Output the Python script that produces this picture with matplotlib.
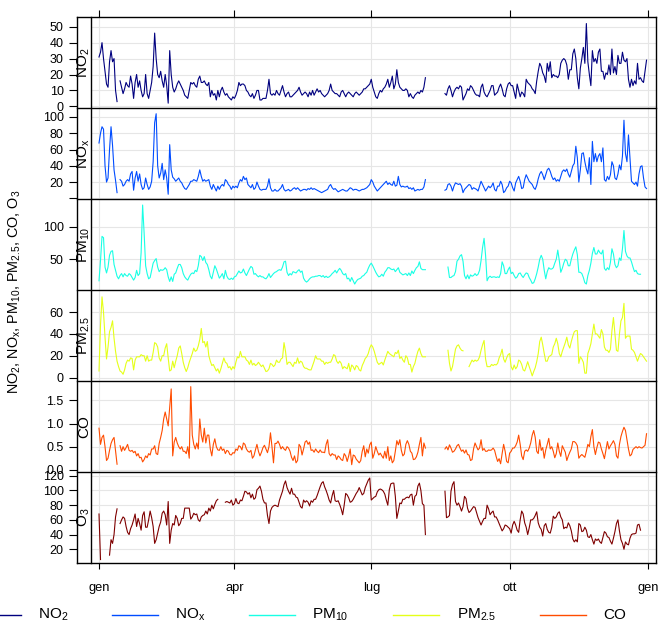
import numpy as np
import pandas as pd
import matplotlib
matplotlib.use('Agg')
import matplotlib.pyplot as plt
import matplotlib.dates as mdates
from matplotlib.lines import Line2D

nan = np.nan
plt.rcParams['font.family'] = ['Liberation Sans', 'DejaVu Sans']
plt.rcParams['mathtext.default'] = 'regular'

start_date = '2019-01-01'
n_days = 365

no2 = [31, 34, 40, 30, 22, 14, 12, 28, 35, 28,
       30, 10, 3, nan, 16, 12, 8, 11, 15, 13,
       12, 19, 14, 5, 15, 20, 12, 16, 10, 6,
       8, 20, 8, 5, 10, 15, 25, 46, 30, 20,
       18, 22, 16, 12, 20, 13, 2, 35, 20, 12,
       9, 11, 14, 16, 14, 12, 10, 7, 6, 5,
       10, 15, 14, 15, 13, 12, 17, 19, 15, 15,
       16, 14, 13, 15, 6, 10, 7, 8, 4, 10,
       6, 10, 12, 9, 7, 8, 6, 5, 4, 6,
       5, 7, 10, 15, 13, 14, 14, 13, 10, 9,
       7, 6, 8, 5, 7, 10, 10, 4, 4, 5,
       5, 5, 10, 17, 8, 7, 8, 7, 10, 8,
       7, 10, 13, 9, 6, 8, 9, 6, 6, 7,
       8, 9, 10, 12, 9, 7, 8, 9, 8, 6,
       9, 7, 10, 7, 9, 11, 9, 10, 8, 7,
       6, 7, 8, 10, 14, 10, 9, 8, 8, 7,
       6, 9, 10, 8, 6, 8, 9, 8, 7, 6,
       8, 9, 8, 7, 8, 9, 11, 11, 12, 13,
       14, 17, 12, 9, 6, 5, 8, 10, 9, 11,
       12, 14, 17, 12, 15, 19, 11, 14, 23, 15,
       12, 11, 10, 10, 11, 10, 6, 8, 6, 5,
       7, 8, 9, 8, 10, 9, 12, 18, nan, nan,
       nan, nan, nan, nan, nan, nan, nan, nan, nan, nan,
       8, 7, 11, 13, 10, 6, 9, 11, 12, 11,
       13, 12, 4, 6, 8, 11, 10, 13, 12, 10,
       8, 7, 7, 6, 12, 14, 9, 7, 6, 8,
       10, 13, 13, 7, 8, 9, 12, 14, 11, 7,
       6, 11, 14, 15, 13, 13, 9, 5, 14, 10,
       6, 9, 8, 6, 17, 15, 14, 13, 11, 10,
       8, 16, 22, 27, 25, 21, 19, 15, 27, 22,
       28, 18, 20, 19, 19, 18, 20, 27, 29, 30,
       29, 26, 17, 23, 23, 33, 36, 30, 18, 11,
       24, 30, 37, 27, 52, 28, 20, 13, 35, 28,
       30, 27, 34, 36, 22, 22, 17, 21, 20, 26,
       20, 36, 21, 25, 20, 32, 27, 27, 34, 29,
       28, 30, 17, 12, 17, 13, 16, 14, 27, 17,
       18, 16, 15, 22, 29]

nox = [68, 80, 88, 85, 40, 20, 25, 60, 88, 65,
       35, 22, 7, nan, 23, 21, 15, 17, 21, 23,
       21, 30, 33, 10, 25, 33, 21, 30, 17, 11,
       13, 25, 17, 11, 14, 21, 45, 93, 104, 40,
       25, 31, 43, 23, 35, 25, 5, 66, 35, 26,
       24, 21, 23, 25, 21, 19, 15, 12, 11, 14,
       17, 21, 21, 23, 22, 21, 27, 35, 27, 21,
       23, 21, 22, 23, 15, 11, 17, 13, 9, 15,
       11, 15, 17, 15, 23, 21, 17, 15, 11, 15,
       13, 15, 13, 19, 23, 21, 27, 23, 25, 17,
       15, 13, 17, 11, 13, 20, 15, 11, 10, 11,
       11, 11, 15, 24, 13, 9, 9, 11, 9, 9,
       11, 13, 17, 11, 9, 10, 11, 9, 10, 12,
       13, 11, 13, 11, 9, 10, 11, 11, 10, 12,
       11, 13, 11, 12, 11, 10, 9, 8, 7, 8,
       9, 10, 11, 15, 17, 13, 11, 12, 10, 8,
       9, 10, 11, 10, 9, 9, 11, 13, 12, 10,
       11, 11, 10, 9, 10, 11, 11, 12, 13, 15,
       17, 23, 20, 15, 12, 9, 11, 13, 15, 17,
       19, 21, 17, 19, 17, 16, 21, 15, 16, 27,
       17, 14, 15, 14, 14, 15, 12, 13, 11, 13,
       9, 10, 11, 10, 11, 11, 14, 23, nan, nan,
       nan, nan, nan, nan, nan, nan, nan, nan, nan, nan,
       10, 11, 17, 18, 15, 9, 15, 19, 18, 17,
       18, 15, 7, 11, 13, 15, 17, 16, 11, 13,
       12, 11, 9, 15, 21, 17, 13, 9, 12, 15,
       13, 15, 19, 11, 9, 15, 15, 21, 17, 7,
       9, 13, 15, 21, 19, 13, 9, 19, 23, 27,
       21, 12, 13, 23, 29, 25, 21, 19, 17, 13,
       11, 16, 24, 30, 33, 29, 23, 29, 35, 37,
       33, 27, 23, 25, 21, 23, 21, 27, 33, 35,
       33, 36, 30, 26, 33, 40, 43, 64, 50, 20,
       35, 55, 56, 45, 36, 30, 50, 17, 70, 45,
       55, 45, 52, 55, 45, 62, 23, 21, 27, 23,
       29, 45, 40, 25, 23, 30, 41, 35, 52, 96,
       55, 45, 78, 50, 21, 19, 17, 20, 15, 30,
       39, 40, 25, 14, 12]

pm10 = [17, 48, 85, 83, 38, 29, 38, 56, 62, 63,
        42, 33, 24, 20, 25, 28, 23, 28, 25, 24,
        28, 26, 22, 18, 22, 33, 25, 28, 60, 133,
        90, 40, 28, 20, 22, 33, 44, 48, 51, 38,
        31, 34, 33, 34, 37, 34, 23, 16, 23, 16,
        27, 29, 36, 42, 42, 37, 28, 23, 20, 18,
        23, 27, 29, 28, 33, 31, 40, 56, 54, 48,
        54, 45, 42, 34, 24, 20, 30, 40, 35, 28,
        21, 24, 28, 20, 33, 24, 20, 19, 21, 19,
        23, 24, 28, 32, 29, 30, 35, 29, 25, 30,
        35, 39, 37, 27, 28, 25, 23, 25, 23, 23,
        21, 20, 23, 28, 22, 25, 28, 30, 31, 33,
        34, 33, 38, 46, 47, 30, 25, 28, 26, 31,
        30, 29, 32, 34, 30, 32, 21, 17, 15, 17,
        20, 22, 23, 23, 24, 24, 25, 25, 23, 25,
        22, 24, 22, 23, 25, 28, 30, 33, 29, 33,
        36, 33, 28, 26, 28, 20, 21, 16, 22, 17,
        12, 16, 19, 20, 21, 24, 25, 28, 30, 36,
        41, 44, 40, 35, 30, 26, 23, 24, 27, 24,
        30, 33, 37, 37, 35, 34, 35, 31, 34, 37,
        30, 28, 26, 27, 28, 25, 29, 25, 32, 28,
        33, 37, 39, 46, 36, 34, 34, 34, nan, nan,
        nan, nan, nan, nan, nan, nan, nan, nan, nan, nan,
        nan, nan, 38, 22, 22, 24, 25, 31, 47, 50,
        55, 57, 47, 25, 20, 26, 20, 26, 24, 25,
        28, 25, 27, 33, 48, 68, 82, 56, 17, 22,
        24, 22, 23, 23, 22, 23, 22, 28, 46, 40,
        28, 28, 34, 38, 28, 30, 25, 21, 23, 28,
        29, 25, 22, 26, 29, 28, 22, 18, 13, 14,
        20, 28, 38, 50, 56, 50, 33, 20, 31, 37,
        35, 35, 37, 44, 50, 64, 48, 30, 36, 44,
        50, 48, 40, 40, 50, 58, 64, 69, 57, 30,
        30, 28, 22, 14, 12, 25, 33, 44, 59, 68,
        58, 58, 64, 60, 58, 64, 36, 33, 37, 34,
        45, 66, 58, 42, 37, 40, 52, 48, 66, 94,
        62, 55, 52, 52, 46, 38, 31, 33, 28, 27,
        27, nan, nan, nan, nan]

pm25 = [6, 48, 74, 60, 37, 17, 28, 42, 46, 52,
        36, 24, 15, 10, 6, 5, 3, 7, 13, 16,
        15, 18, 17.5, 7, 16, 19, 19, 19, 21, 20,
        20, 15, 20, 15, 16, 16, 23, 32, 31, 28,
        18, 15, 20, 20, 27, 31, 18, 6, 7, 15,
        9, 15, 20, 27, 29, 22, 14, 9, 5.5, 9,
        14, 18, 22, 27, 24, 25, 29, 35, 45, 32,
        33, 28, 33, 20, 15, 11, 12, 9, 6, 8,
        4, 8, 13, 18, 14, 13, 9, 10, 7, 10,
        8, 14, 19, 18, 24, 19, 19, 19, 16, 15,
        12, 16, 11.5, 13, 11, 12, 14, 12, 10, 11.5,
        8.5, 5.5, 6, 8, 13, 12, 10, 11.5, 16, 14,
        14, 17, 18, 32, 24, 12, 14, 14, 12, 10,
        14, 13, 18, 13, 15, 14, 10, 8.5, 8.5, 7.5,
        7, 7, 11, 15, 20, 17, 17, 17, 15, 15,
        12, 14, 13, 14, 14, 17, 21, 20, 15, 13,
        15, 13, 8, 10, 9, 8, 13, 5.5, 11.5, 10,
        7, 11, 10, 7, 6, 11, 14, 17.5, 19, 22,
        27, 30, 28, 24, 19, 14, 12, 13, 14, 11.5,
        16, 20, 24, 22, 21, 20, 19, 23, 22, 25,
        17.5, 19, 16, 14, 20, 18, 12, 12, 5, 10,
        13, 19, 24, 27, 22, 19, 19, 19, nan, nan,
        nan, nan, nan, nan, nan, nan, nan, nan, nan, nan,
        nan, nan, 25, 13, 6, 10, 18, 26, 29, 30,
        27, 25, 24.5, nan, nan, nan, 10, 13, 16, 14.5,
        16, 15, 16, 19, 25, 30, 34, 17, 10, 10,
        10, 12, 11, 12, 11.5, 13, 18, 21, 26, 17,
        14, 18, 21, 22, 10, 7, 11.5, 8, 10, 16,
        15, 12, 7, 6, 10, 14.5, 10, 6, 1.5, 5.5,
        9, 14.5, 22, 33, 37, 30, 22, 15, 15, 19,
        20, 21, 28, 31, 36, 31, 22, 19, 24, 28,
        32, 37, 30, 27, 33, 38, 42, 43, 43, 13,
        19, 17, 14, 4, 4, 22, 26, 31, 40, 49,
        40, 40, 38, 36, 44, 40, 28, 25, 25, 23,
        26, 43, 55, 40, 25, 24, 40, 52, 55, 68,
        36, 38, 38, 38, 26, 25, 23, 19, 15, 19,
        22, 21, 19, 17, 15]

co = [0.9, 0.55, 0.7, 0.75, 0.5, 0.2, 0.25, 0.42, 0.57, 0.65,
      0.7, 0.4, 0.12, nan, 0.52, 0.4, 0.5, 0.42, 0.48, 0.55,
      0.42, 0.4, 0.42, 0.37, 0.4, 0.3, 0.35, 0.26, 0.27, 0.17,
      0.22, 0.3, 0.26, 0.35, 0.32, 0.45, 0.45, 0.52, 0.35, 0.33,
      0.57, 0.7, 0.85, 1.1, 1.25, 1.1, 0.95, 1.35, 1.75, 0.3,
      0.6, 0.7, 0.58, 0.5, 0.45, 0.5, 0.4, 0.4, 0.35, 0.5,
      0.25, 1.8, 0.75, 0.55, 0.45, 0.58, 0.45, 1.1, 0.75, 0.6,
      0.9, 0.58, 0.75, 0.75, 0.45, 0.3, 0.55, 0.67, 0.5, 0.43,
      0.42, 0.5, 0.42, 0.45, 0.35, 0.42, 0.4, 0.33, 0.32, 0.37,
      0.36, 0.45, 0.42, 0.52, 0.5, 0.43, 0.58, 0.55, 0.45, 0.4,
      0.38, 0.42, 0.25, 0.3, 0.43, 0.55, 0.4, 0.3, 0.38, 0.48,
      0.53, 0.45, 0.37, 0.5, 0.8, 0.5, 0.15, 0.57, 0.57, 0.62,
      0.55, 0.45, 0.5, 0.45, 0.42, 0.5, 0.47, 0.4, 0.27, 0.2,
      0.3, 0.15, 0.2, 0.55, 0.5, 0.32, 0.45, 0.6, 0.63, 0.55,
      0.6, 0.42, 0.43, 0.38, 0.45, 0.4, 0.37, 0.43, 0.38, 0.38,
      0.37, 0.55, 0.65, 0.35, 0.3, 0.35, 0.32, 0.32, 0.22, 0.3,
      0.27, 0.22, 0.2, 0.35, 0.3, 0.18, 0.3, 0.45, 0.11, 0.32,
      0.3, 0.23, 0.19, 0.15, 0.2, 0.4, 0.52, 0.28, 0.45, 0.36,
      0.54, 0.6, 0.25, 0.35, 0.5, 0.4, 0.32, 0.36, 0.3, 0.25,
      0.4, 0.25, 0.5, 0.2, 0.3, 0.15, 0.2, 0.4, 0.63, 0.54,
      0.65, 0.42, 0.3, 0.34, 0.55, 0.63, 0.55, 0.4, 0.36, 0.22,
      0.23, 0.28, 0.38, 0.55, 0.7, 0.3, 0.58, 0.47, nan, nan,
      nan, nan, nan, nan, nan, nan, nan, nan, nan, nan,
      0.45, 0.5, 0.43, 0.54, 0.47, 0.38, 0.4, 0.45, 0.52, 0.55,
      0.47, 0.4, 0.43, 0.36, 0.43, 0.33, 0.32, 0.2, 0.22, 0.45,
      0.58, 0.5, 0.43, 0.47, 0.65, 0.42, 0.46, 0.4, 0.4, 0.43,
      0.42, 0.43, 0.47, 0.42, 0.29, 0.18, 0.24, 0.13, 0.35, 0.55,
      0.4, 0.18, 0.15, 0.36, 0.4, 0.47, 0.47, 0.52, 0.6, 0.75,
      0.55, 0.3, 0.22, 0.4, 0.43, 0.4, 0.47, 0.58, 0.75, 0.85,
      0.7, 0.4, 0.35, 0.65, 0.42, 0.48, 0.25, 0.43, 0.55, 0.68,
      0.45, 0.5, 0.4, 0.26, 0.35, 0.58, 0.4, 0.29, 0.52, 0.45,
      0.38, 0.2, 0.3, 0.38, 0.45, 0.61, 0.61, 0.58, 0.52, 0.25,
      0.3, 0.33, 0.3, 0.27, 0.4, 0.55, 0.5, 0.72, 0.87, 0.5,
      0.33, 0.48, 0.6, 0.58, 0.45, 0.35, 0.24, 0.43, 0.61, 0.45,
      0.52, 0.57, 0.63, 0.55, 0.3, 0.25, 0.55, 0.72, 0.83, 0.92,
      0.85, 0.65, 0.45, 0.3, 0.33, 0.44, 0.47, 0.5, 0.47, 0.5,
      0.48, 0.47, 0.5, 0.53, 0.78]

o3 = [68, 6, nan, nan, nan, nan, nan, 12, 33, 28,
      40, 64, 75, nan, 55, 60, 64, 62, 51, 43,
      40, 48, 53, 60, 68, 51, 62, 55, 46, 66,
      71, 50, 50, 60, 72, 63, 51, 28, 33, 42,
      51, 57, 69, 72, 67, 53, 85, 28, 46, 55,
      53, 66, 62, 52, 55, 62, 62, 76, 76, 76,
      76, 61, 64, 69, 67, 68, 60, 58, 64, 66,
      67, 72, 68, 76, 72, 80, 75, 81, 86, 88,
      nan, nan, nan, nan, 84, 85, 84, 83, 87, 80,
      82, 89, 83, 82, 87, 86, 92, 99, 98, 95,
      97, 90, 95, 88, 90, 101, 103, 106, 99, 88,
      83, 83, 66, 55, 72, 77, 79, 80, 79, 78,
      87, 93, 99, 108, 113, 104, 99, 95, 103, 95,
      95, 91, 90, 84, 78, 76, 87, 84, 86, 84,
      79, 86, 84, 88, 88, 93, 99, 105, 110, 112,
      105, 100, 94, 87, 83, 93, 100, 86, 85, 86,
      81, 75, 67, 80, 96, 94, 90, 84, 85, 88,
      92, 96, 99, 104, 99, 94, 96, 104, 109, 114,
      117, 87, 89, 91, 92, 98, 101, 102, 101, 99,
      95, 87, 80, 101, 109, 110, 110, 92, 62, 72,
      83, 82, 88, 88, 90, 91, 90, 94, 95, 80,
      92, 94, 106, 110, 100, 82, 80, 40, nan, nan,
      nan, nan, nan, nan, nan, nan, nan, nan, nan, nan,
      99, 63, 64, 66, 99, 108, 112, 85, 80, 83,
      78, 72, 78, 92, 89, 76, 70, 72, 75, 78,
      77, 70, 63, 58, 53, 58, 62, 62, 80, 75,
      67, 70, 72, 64, 64, 60, 55, 50, 45, 48,
      53, 52, 50, 48, 42, 53, 58, 53, 46, 43,
      60, 72, 68, 56, 50, 40, 49, 60, 60, 62,
      66, 71, 56, 50, 47, 38, 52, 55, 47, 43,
      42, 50, 65, 62, 64, 69, 71, 64, 60, 48,
      50, 49, 56, 52, 45, 34, 30, 33, 30, 55,
      53, 44, 45, 50, 46, 37, 36, 40, 33, 27,
      34, 32, 34, 30, 28, 36, 44, 42, 37, 36,
      31, 27, 35, 44, 55, 60, 45, 33, 28, 20,
      30, 27, 26, 35, 40, 41, 41, 42, 53, 54,
      46, nan, nan, nan, nan]

series_values = [no2, nox, pm10, pm25, co, o3]
series_names = [r'NO$_2$', r'NO$_x$', r'PM$_{10}$', r'PM$_{2.5}$', 'CO', r'O$_3$']
series_colors = ['#00007F', '#004CFF', '#19FFE5', '#E5FF19', '#FF4C00', '#7F0000']
y_ticks = [[0, 10, 20, 30, 40, 50], [0, 20, 40, 60, 80, 100], [50, 100],
           [0, 20, 40, 60], [0.0, 0.5, 1.0, 1.5], [20, 40, 60, 80, 100, 120]]
y_ticklabels = [['0', '10', '20', '30', '40', '50'], ['', '20', '40', '60', '80', '100'],
                ['50', '100'], ['0', '20', '40', '60'], ['0.0', '0.5', '1.0', '1.5'],
                ['20', '40', '60', '80', '100', '120']]
y_limits = [(-1.0, 56.1), (-0.7, 111.1), (3.1, 142.4), (-3.0, 80.4), (-0.043, 1.926), (1.7, 125.5)]
month_ticks = ['2019-01-01', '2019-04-01', '2019-07-01', '2019-10-01', '2020-01-01']
month_labels = ['gen', 'apr', 'lug', 'ott', 'gen']
y_title = r'NO$_2$, NO$_x$, PM$_{10}$, PM$_{2.5}$, CO, O$_3$'

dates = pd.date_range(start_date, periods=n_days, freq='D')
d0 = mdates.date2num(pd.Timestamp(start_date))
tick_nums = [mdates.date2num(pd.Timestamp(t)) for t in month_ticks]

W, H = 672, 642
def fx(x):
    return x / W
def fy(y):
    return 1 - y / H

fig = plt.figure(figsize=(W / 100, H / 100), dpi=100)
fig.patch.set_facecolor('white')

top, bottom = 17.0, 562.7
left_out, strip_x, right = 77.0, 91.0, 656.0
n = len(series_values)
ph = (bottom - top) / n
grid_col = '#E6E6E6'

for i in range(n):
    yt = top + i * ph
    ax = fig.add_axes([fx(strip_x), fy(yt + ph), fx(right) - fx(strip_x), ph / H])
    ax.plot(dates, np.array(series_values[i], dtype=float), color=series_colors[i], lw=0.8)
    ax.set_xlim(d0 - 5.32, d0 + 370.3)
    ax.set_ylim(*y_limits[i])
    ax.set_yticks(y_ticks[i])
    ax.set_yticklabels(y_ticklabels[i])
    ax.set_xticks(tick_nums)
    ax.grid(True, color=grid_col, lw=0.8)
    ax.set_axisbelow(True)
    for s in ax.spines.values():
        s.set_visible(False)
    ax.spines['left'].set_position(('outward', 14 * 0.72))
    ax.tick_params(axis='y', direction='out', length=6, width=0.8, pad=3.5,
                   labelsize=9, colors='black')
    if i == 0:
        ax.xaxis.set_ticks_position('top')
        ax.tick_params(axis='x', direction='out', length=5, width=0.8,
                       labeltop=False, labelbottom=False)
    elif i == n - 1:
        ax.xaxis.set_ticks_position('bottom')
        ax.set_xticklabels(month_labels)
        ax.tick_params(axis='x', direction='out', length=4, width=0.8, pad=10,
                       labelsize=9.3)
    else:
        ax.tick_params(axis='x', length=0, labelbottom=False)
    fig.text(fx(84), fy(yt + ph / 2), series_names[i], rotation=90,
             ha='center', va='center', fontsize=11)

def fline(x0, y0, x1, y1, **kw):
    fig.add_artist(Line2D([fx(x0), fx(x1)], [fy(y0), fy(y1)],
                          transform=fig.transFigure, **kw))

frame_kw = dict(color='black', lw=1.0)
for k in range(n + 1):
    yb = top + k * ph
    fline(left_out, yb, right, yb, **frame_kw)
fline(left_out, top, left_out, bottom, **frame_kw)
fline(right, top, right, bottom, **frame_kw)
fline(strip_x, top, strip_x, bottom, **frame_kw)

fig.text(fx(15), fy(291.5), y_title, rotation=90,
         ha='center', va='center', fontsize=10.4)

legend_line_x = [-25, 112, 249, 393, 540]
legend_text_x = [38, 175, 312, 457, 603]
ly = 615.3
for j in range(5):
    fline(legend_line_x[j], ly, legend_line_x[j] + 46, ly,
          color=series_colors[j], lw=1.0)
    fig.text(fx(legend_text_x[j]), fy(ly), series_names[j], ha='left',
             va='center', fontsize=11)

fig.savefig('out.png', dpi=100)
